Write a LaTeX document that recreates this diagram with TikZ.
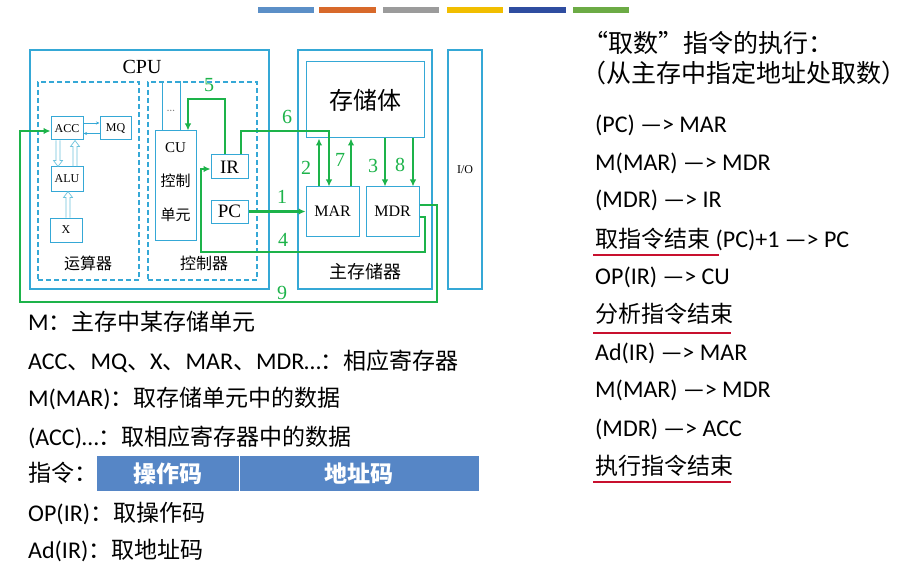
\documentclass[tikz,border=0pt]{standalone}
\usepackage{fontspec}
\setmainfont{Carlito}
\newfontfamily\cjk{Noto Sans CJK SC}
\newfontfamily\tnr{Liberation Serif}
\usetikzlibrary{arrows.meta,calc}

\definecolor{boxcyan}{HTML}{35A8D6}
\definecolor{flowgreen}{HTML}{1DB34A}
\definecolor{hollowcyan}{HTML}{6CC2DC}
\definecolor{barblue}{HTML}{5686C6}
\definecolor{ulred}{HTML}{C8102E}
\definecolor{tabA}{HTML}{5B8FC7}
\definecolor{tabB}{HTML}{D8692A}
\definecolor{tabC}{HTML}{9B9B9B}
\definecolor{tabD}{HTML}{F1BE00}
\definecolor{tabE}{HTML}{2F4DA0}
\definecolor{tabF}{HTML}{6CAB45}

\newcommand\fs[1]{\fontsize{#1}{#1}\selectfont}
\newcommand\zh[1]{{\cjk\fs{23}#1}}

% open (hollow) vertical arrows: start, end
\newcommand\hollowup[2]{%
  \draw[hollowline] let \p1=(#1), \p2=(#2) in
    (\x1-2pt,\y1) -- (\x1-2pt,\y2-6pt) -- (\x1-4.5pt,\y2-6pt) -- (\x1,\y2)
    -- (\x1+4.5pt,\y2-6pt) -- (\x1+2pt,\y2-6pt) -- (\x1+2pt,\y1);}
\newcommand\hollowdown[2]{%
  \draw[hollowline] let \p1=(#1), \p2=(#2) in
    (\x1-2pt,\y1) -- (\x1-2pt,\y2+6pt) -- (\x1-4.5pt,\y2+6pt) -- (\x1,\y2)
    -- (\x1+4.5pt,\y2+6pt) -- (\x1+2pt,\y2+6pt) -- (\x1+2pt,\y1);}

\begin{document}
\begin{tikzpicture}[x=1pt,y=-1pt,
  outerbox/.style={draw=boxcyan, line width=1.6pt, inner sep=0pt},
  regbox/.style={draw=boxcyan, line width=1pt, fill=white, inner sep=0pt},
  dashbox/.style={draw=boxcyan, line width=1.1pt, dash pattern=on 5pt off 3pt, inner sep=0pt},
  garrow/.style={draw=flowgreen, line width=2.7pt, line join=miter,
    -{Latex[length=7pt,width=6.5pt]}},
  thinarrow/.style={draw=boxcyan, line width=0.8pt, -{Stealth[length=3.5pt,width=3pt]}},
  hollowline/.style={draw=hollowcyan, line width=0.7pt, line join=miter},
  glabel/.style={text=flowgreen, font=\tnr\fs{20}, inner sep=0pt},
  txt/.style={anchor=base west, inner sep=0pt, font=\fs{24}},
  head/.style={anchor=base west, inner sep=0pt, font=\cjk\fs{25}},
  uline/.style={draw=ulred, line width=1.4pt}]

\useasboundingbox (0,0) rectangle (912,580);
\fill[white] (0,0) rectangle (912,580);

% colour tabs along the top edge
\foreach \c/\xa/\xb in {tabA/258/314, tabB/319/376, tabC/383/439,
                        tabD/447/503, tabE/509/566, tabF/573/629}
  \fill[\c] (\xa,7) rectangle (\xb,13.5);

% ---------------- CPU ----------------
\node[outerbox, minimum width=239pt, minimum height=239pt] (cpu) at (149.5,169.5) {};
\node[font=\tnr\fs{20}, inner sep=0pt] (cputitle) at (142,67) {CPU};
\node[dashbox, minimum width=101pt, minimum height=198pt] (alubox) at (88.5,181) {};
\node[dashbox, minimum width=109pt, minimum height=198pt] (cubox) at (202.5,181) {};

\node[regbox, minimum width=32pt, minimum height=23pt, font=\tnr\fs{12}] (acc) at (67,128.5) {ACC};
\node[regbox, minimum width=31pt, minimum height=23pt, font=\tnr\fs{12}] (mq) at (115.5,128.5) {MQ};
\node[regbox, minimum width=32pt, minimum height=24pt, font=\tnr\fs{12}] (alu) at (67,179) {ALU};
\node[regbox, minimum width=32pt, minimum height=24pt, font=\tnr\fs{12}] (xreg) at (66,230) {X};
\node[font=\cjk\fs{16}, inner sep=0pt] (alulabel) at (88,263) {运算器};

% ACC <-> MQ
\coordinate (amtop) at (0,123);
\coordinate (ambot) at (0,133.5);
\draw[thinarrow] (acc.east |- amtop) -- (mq.west |- amtop);
\draw[thinarrow] (mq.west |- ambot) -- (acc.east |- ambot);

% ACC <-> ALU, X -> ALU (open arrows)
\coordinate (hA) at (58,0);
\coordinate (hB) at (75,0);
\coordinate (hC) at (68,0);
\hollowdown{hA |- acc.south}{hA |- alu.north}
\hollowup{hB |- alu.north}{hB |- acc.south}
\hollowup{hC |- xreg.north}{hC |- alu.south}

% control unit
\node[regbox, minimum width=41pt, minimum height=109pt] (cu) at (175.5,185.5) {};
\node[font=\tnr\fs{15}, inner sep=0pt] (cu1) at (cu.center |- 0,148) {CU};
\node[font=\cjk\fs{15}, inner sep=0pt] (cu2) at (cu.center |- 0,181) {控制};
\node[font=\cjk\fs{15}, inner sep=0pt] (cu3) at (cu.center |- 0,215) {单元};
\coordinate (cuL) at (162,0);
\coordinate (cuR) at (180,0);
\draw[boxcyan, line width=0.8pt] (cuL |- cubox.north) -- (cuL |- cu.north);
\draw[boxcyan, line width=0.8pt] (cuR |- cubox.north) -- (cuR |- cu.north);
\node[text=gray, font=\fs{11}, inner sep=0pt] (cudots) at (171,111) {…};

\node[regbox, minimum width=37pt, minimum height=24pt, font=\tnr\fs{19}] (ir) at (229.5,167) {IR};
\node[regbox, minimum width=37pt, minimum height=23pt, font=\tnr\fs{19}] (pc) at (229.5,211.5) {PC};
\node[font=\cjk\fs{16}, inner sep=0pt] (ctrllabel) at (204,263) {控制器};

% ---------------- main memory ----------------
\node[outerbox, minimum width=134pt, minimum height=239pt] (mem) at (365,169.5) {};
\node[regbox, minimum width=118pt, minimum height=76pt, font=\cjk\fs{24}] (bank) at (365,100) {存储体};
\node[regbox, minimum width=53pt, minimum height=49pt, font=\tnr\fs{16}] (mar) at (332.5,211.5) {MAR};
\node[regbox, minimum width=53pt, minimum height=49pt, font=\tnr\fs{16}] (mdr) at (392.5,211.5) {MDR};
\node[font=\cjk\fs{18}, inner sep=0pt] (memlabel) at (365,272) {主存储器};

% ---------------- I/O ----------------
\node[outerbox, minimum width=34pt, minimum height=239pt, font=\tnr\fs{12}] (io) at (465,169.5) {I/O};

% ---------------- data paths ----------------
% 1: PC -> MAR
\draw[garrow] (pc.east) -- (mar.west |- pc.east);
\node[glabel] (n1) at (282,197) {1};
% 2 and 7: MAR -> bank
\coordinate (x2) at (319,0);
\coordinate (x7) at (351,0);
\draw[garrow] (x2 |- mar.north) -- (x2 |- bank.south);
\draw[garrow] (x7 |- mar.north) -- (x7 |- bank.south);
\node[glabel] (n2) at (306,168) {2};
\node[glabel] (n7) at (340,160) {7};
% 3 and 8: bank -> MDR
\coordinate (x3) at (385,0);
\coordinate (x8) at (413,0);
\draw[garrow] (x3 |- bank.south) -- (x3 |- mdr.north);
\draw[garrow] (x8 |- bank.south) -- (x8 |- mdr.north);
\node[glabel] (n3) at (373,166) {3};
\node[glabel] (n8) at (400,165) {8};
% 4: MDR -> IR
\coordinate (p4a) at (425,217);
\coordinate (p4b) at (425,252);
\coordinate (p4c) at (201,252);
\coordinate (p4d) at (201,169);
\draw[garrow] (mdr.east |- p4a) -- (p4a) -- (p4b) -- (p4c) -- (p4d) -- (ir.west |- p4d);
\node[glabel] (n4) at (283,240) {4};
% 5: IR -> CU
\coordinate (p5a) at (225,99);
\coordinate (p5b) at (188,99);
\draw[garrow] (p5a |- ir.north) -- (p5a) -- (p5b) -- (p5b |- cu.north);
\node[glabel] (n5) at (209,85) {5};
% 6: IR -> MAR
\coordinate (p6a) at (241,131);
\coordinate (p6b) at (329,131);
\draw[garrow] (p6a |- ir.north) -- (p6a) -- (p6b) -- (p6b |- mar.north);
\node[glabel] (n6) at (287,117) {6};
% 9: MDR -> ACC
\coordinate (p9a) at (437,205);
\coordinate (p9b) at (437,302);
\coordinate (p9c) at (20,302);
\coordinate (p9d) at (20,131);
\draw[garrow] (mdr.east |- p9a) -- (p9a) -- (p9b) -- (p9c) -- (p9d) -- (acc.west |- p9d);
\node[glabel] (n9) at (282,293) {9};

% ---------------- legend ----------------
\node[txt] (l1) at (28,330) {M\zh{：主存中某存储单元}};
\node[txt] (l2) at (28,369) {ACC\zh{、}MQ\zh{、}X\zh{、}MAR\zh{、}MDR…\zh{：相应寄存器}};
\node[txt] (l3) at (28,406) {M(MAR)\zh{：取存储单元中的数据}};
\node[txt] (l4) at (28,445) {(ACC)…\zh{：取相应寄存器中的数据}};
\node[txt] (l5) at (28,481) {\zh{指令：}};
\node[fill=barblue, minimum width=142pt, minimum height=35pt, inner sep=0pt,
      text=white, font=\cjk\bfseries\fs{23}] (opfield) at (168,473.5) {操作码};
\node[fill=barblue, minimum width=240pt, minimum height=35pt, inner sep=0pt,
      text=white, font=\cjk\bfseries\fs{23}] (adfield) at (359,473.5) {地址码};
\draw[white, line width=1.2pt] (opfield.north east) -- (opfield.south east);
\node[txt] (l6) at (28,521) {OP(IR)\zh{：取操作码}};
\node[txt] (l7) at (28,558) {Ad(IR)\zh{：取地址码}};

% ---------------- fetch / execute steps ----------------
\node[head] (h1) at (583,53) {“取数”指令的执行：};
\node[head] (h2) at (581,83) {（从主存中指定地址处取数）};

\node[txt] (r1) at (595,132.5) {(PC) —> MAR};
\node[txt] (r2) at (595,170.5) {M(MAR) —> MDR};
\node[txt] (r3) at (595,207.5) {(MDR) —> IR};
\node[txt] (r4) at (595,247.5) {\zh{取指令结束} (PC)+1 —> PC};
\node[txt] (r5) at (595,284.5) {OP(IR) —> CU};
\node[txt] (r6) at (595,322.5) {\zh{分析指令结束}};
\node[txt] (r7) at (595,360.5) {Ad(IR) —> MAR};
\node[txt] (r8) at (595,397.5) {M(MAR) —> MDR};
\node[txt] (r9) at (595,436.5) {(MDR) —> ACC};
\node[txt] (r10) at (595,474.5) {\zh{执行指令结束}};

\coordinate (u1) at (719,255);
\coordinate (u2) at (731,333);
\coordinate (u3) at (731,482);
\draw[uline] (593,255) -- (u1);
\draw[uline] (593,333) -- (u2);
\draw[uline] (593,482) -- (u3);
\end{tikzpicture}
\end{document}
